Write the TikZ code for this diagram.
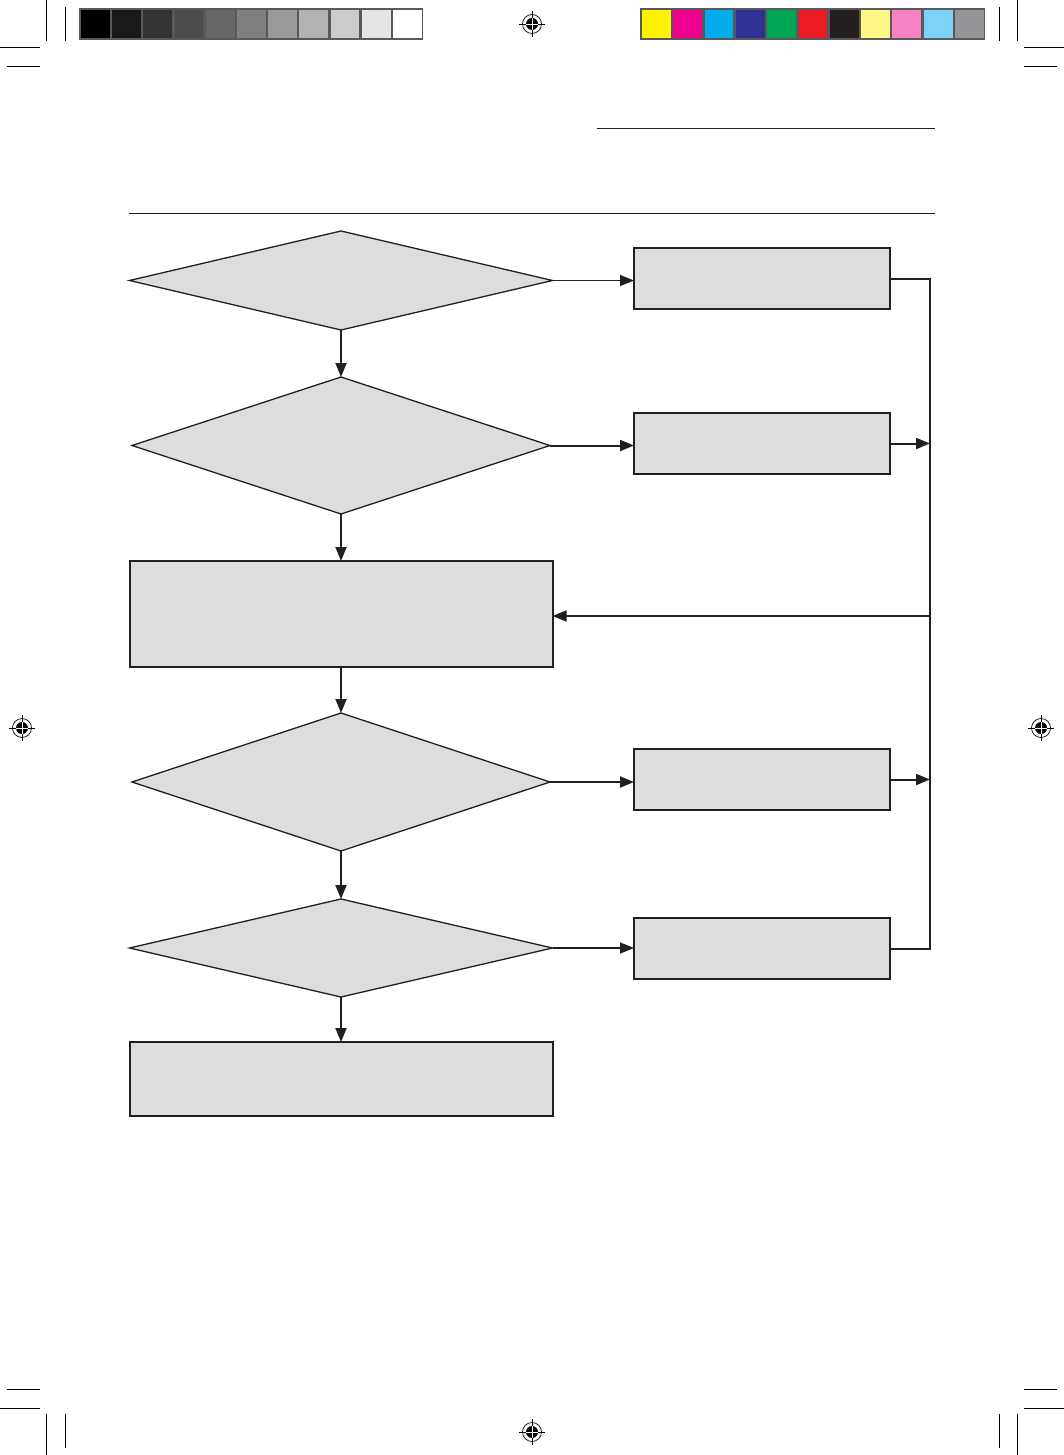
\documentclass[tikz,border=0pt]{standalone}
\usetikzlibrary{shapes.geometric,arrows.meta}
\definecolor{ink}{HTML}{231F20}
\definecolor{boxfill}{HTML}{DDDDDD}
\definecolor{barframe}{HTML}{58595B}
\tikzset{
  dia/.style={shape=diamond,draw=ink,fill=boxfill,line width=1.3pt,inner sep=0pt,outer sep=0pt},
  rbox/.style={shape=rectangle,draw=ink,fill=boxfill,line width=2pt,inner sep=0pt,outer sep=0pt},
  conn/.style={draw=ink,line width=2pt},
  thinconn/.style={draw=ink,line width=1.2pt},
  arr/.style={-{Triangle[length=14pt,width=11pt]}},
  crop/.style={draw=black,line width=0.8pt},
  rule/.style={draw=ink,line width=1pt}
}
\newcommand{\regmark}[2]{%
  \draw[black,line width=0.7pt] (#1,#2) circle[radius=9.5];
  \draw[black,line width=0.9pt] (#1-13,#2) -- (#1+13,#2) (#1,#2-13) -- (#1,#2+13);
  \fill[black] (#1,#2) circle[radius=6];
  \draw[white,line width=0.9pt] (#1-6,#2) -- (#1+6,#2) (#1,#2-6) -- (#1,#2+6);
}
\begin{document}
\begin{tikzpicture}[x=1pt,y=-1pt]
\useasboundingbox (0,0) rectangle (1064,1455);
\fill[white] (0,0) rectangle (1064,1455);
% grey bar
\fill[barframe] (79,8) rectangle (423,40);
\foreach \i/\g in {0/100,1/90,2/80,3/70,4/60,5/50,6/40,7/30,8/20,9/10,10/0}{
  \fill[black!\g] ({81+\i*31.2},10) rectangle ({81+\i*31.2+28.8},38);
}
% colour bar
\definecolor{c1}{HTML}{FFF200}
\definecolor{c2}{HTML}{EC008C}
\definecolor{c3}{HTML}{00AEEF}
\definecolor{c4}{HTML}{2E3192}
\definecolor{c5}{HTML}{00A651}
\definecolor{c6}{HTML}{ED1C24}
\definecolor{c7}{HTML}{231F20}
\definecolor{c8}{HTML}{FFF685}
\definecolor{c9}{HTML}{F684C5}
\definecolor{c10}{HTML}{7DD3F7}
\definecolor{c11}{HTML}{939598}
\fill[barframe] (640,8) rectangle (985,40);
\foreach \i in {1,...,11}{
  \fill[c\i] ({642+(\i-1)*31.3},10) rectangle ({642+(\i-1)*31.3+28.8},38);
}
% registration marks
\regmark{532}{24}
\regmark{22}{728}
\regmark{1041}{728}
\regmark{532}{1432}
% crop marks
\draw[crop] (46,0) -- (46,41) (65,7) -- (65,41) (0,47) -- (40,47) (7,66) -- (40,66);
\draw[crop] (1017,0) -- (1017,41) (999,7) -- (999,41) (1024,47) -- (1064,47) (1024,66) -- (1057,66);
\draw[crop] (46,1455) -- (46,1414) (65,1448) -- (65,1414) (0,1408) -- (40,1408) (7,1389) -- (40,1389);
\draw[crop] (1017,1455) -- (1017,1414) (999,1448) -- (999,1414) (1024,1408) -- (1064,1408) (1024,1389) -- (1057,1389);
% header rules
\draw[rule] (597,129) -- (935,129);
\draw[rule] (129,214) -- (935,214);
% flowchart nodes
\node[dia,minimum width=423pt,minimum height=99pt] (d1) at (341,280.5) {};
\node[dia,minimum width=418pt,minimum height=137pt] (d2) at (341,445.5) {};
\node[rbox,minimum width=423pt,minimum height=106pt] (c) at (341,614) {};
\node[dia,minimum width=418pt,minimum height=138pt] (d3) at (341,782) {};
\node[dia,minimum width=423pt,minimum height=98pt] (d4) at (341,948) {};
\node[rbox,minimum width=423pt,minimum height=74pt] (f) at (341,1079) {};
\node[rbox,minimum width=256pt,minimum height=61pt] (a) at (762,278.5) {};
\node[rbox,minimum width=256pt,minimum height=61pt] (b) at (762,443.5) {};
\node[rbox,minimum width=256pt,minimum height=61pt] (dd) at (762,779.5) {};
\node[rbox,minimum width=256pt,minimum height=61pt] (e) at (762,948.5) {};
\coordinate (bx) at (930,0);
\coordinate (cin) at ([yshift=-2pt]c.east);
% connectors
\draw[thinconn,arr] (d1.east) -- (a.west |- d1.east);
\draw[conn,arr] (d2.east) -- (b.west |- d2.east);
\draw[conn,arr] (d3.east) -- (dd.west |- d3.east);
\draw[thinconn,arr] (d4.east) -- (e.west |- d4.east);
\draw[conn,arr] (d1.south) -- (d2.north);
\draw[conn,arr] (d2.south) -- (c.north);
\draw[conn,arr] (c.south) -- (d3.north);
\draw[conn,arr] (d3.south) -- (d4.north);
\draw[conn,arr] (d4.south) -- (f.north);
\draw[conn] (a.east) -- (a.east -| bx) -- (e.east -| bx) -- (e.east);
\draw[conn,arr] (b.east) -- (b.east -| bx);
\draw[conn,arr] (dd.east) -- (dd.east -| bx);
\draw[conn,arr] (cin -| bx) -- (cin);
\end{tikzpicture}
\end{document}
